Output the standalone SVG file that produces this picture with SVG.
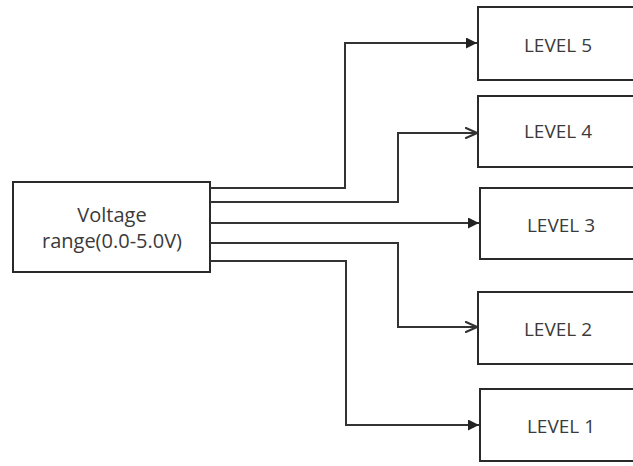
<svg xmlns="http://www.w3.org/2000/svg" width="633" height="466" viewBox="0 0 633 466">
<style>
.box{fill:#fff;stroke:#2a2a2a;stroke-width:2}
.t{font-family:"Open Sans","Noto Sans",sans-serif;font-size:19px;fill:#3a3a3a;text-anchor:middle}
.s{font-size:20px}
.c{fill:none;stroke:#333;stroke-width:2}
</style>
<defs>
<marker id="fill" viewBox="0 0 10 10" refX="10" refY="5" markerWidth="12" markerHeight="11" markerUnits="userSpaceOnUse" orient="auto"><path d="M0,0 L10,5 L0,10 Z" fill="#222"/></marker>
<marker id="open" viewBox="0 0 10 10" refX="10" refY="5" markerWidth="12" markerHeight="12" markerUnits="userSpaceOnUse" orient="auto"><path d="M0,0.5 L10,5 L0,9.5" fill="none" stroke="#333" stroke-width="1.8"/></marker>
</defs>
<rect width="633" height="466" fill="#fff"/>
<g id="src"><rect class="box" x="13" y="182" width="197" height="90"/><text class="t s" x="112" y="222">Voltage</text><text class="t s" x="112" y="248">range(0.0-5.0V)</text></g>
<g id="l5"><rect class="box" x="478" y="7" width="165" height="73"/><text class="t" x="558" y="52">LEVEL 5</text></g>
<g id="l4"><rect class="box" x="478" y="96" width="165" height="71"/><text class="t" x="558" y="138">LEVEL 4</text></g>
<g id="l3"><rect class="box" x="480" y="188" width="165" height="71"/><text class="t" x="561" y="232">LEVEL 3</text></g>
<g id="l2"><rect class="box" x="478" y="292" width="165" height="72"/><text class="t" x="558" y="336">LEVEL 2</text></g>
<g id="l1"><rect class="box" x="480" y="389" width="165" height="72"/><text class="t" x="561" y="433">LEVEL 1</text></g>
<g id="connectors">
<path class="c" d="M210,188 H345 V43 H477" marker-end="url(#fill)"/>
<path class="c" d="M210,202 H398 V133 H477" marker-end="url(#open)"/>
<path class="c" d="M210,223 H479" marker-end="url(#fill)"/>
<path class="c" d="M210,243 H398 V327 H477" marker-end="url(#open)"/>
<path class="c" d="M210,261 H346 V425 H479" marker-end="url(#fill)"/>
</g>
</svg>
